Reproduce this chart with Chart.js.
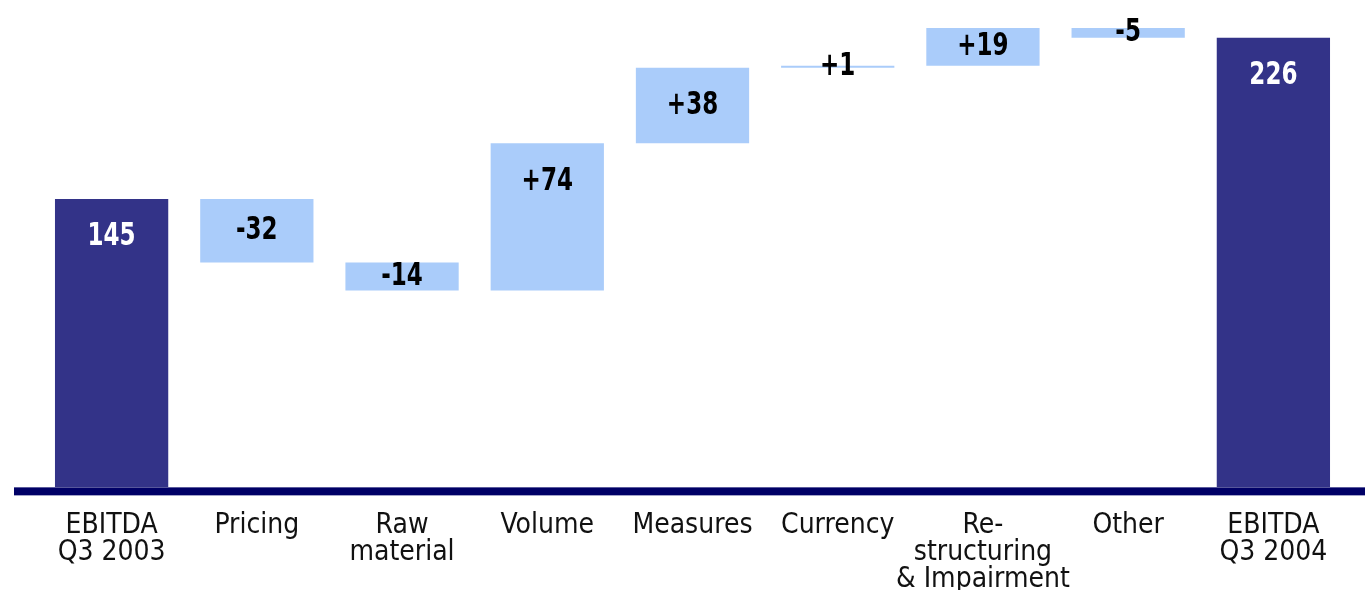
<!DOCTYPE html>
<html lang="en">
<head>
    <meta charset="UTF-8">
    <title>EBITDA bridge</title>
    <script src="https://cdn.jsdelivr.net/npm/chart.js@4.4.0/dist/chart.umd.min.js"></script>
    <style>
        html, body { margin: 0; padding: 0; background: #fff; }
        .chart_box { width: 1365px; height: 590px; }
    </style>
</head>
<body>
<div class="chart_box">
    <canvas id="bridgeChart"></canvas>
</div>
<script>
    // categories and values
    const categories = [
        ['EBITDA', 'Q3 2003'], 'Pricing', ['Raw', 'material'], 'Volume', 'Measures',
        'Currency', ['Re-', 'structuring', '& Impairment'], 'Other', ['EBITDA', 'Q3 2004']
    ];
    const startValue = 145;
    const deltas = [-32, -14, 74, 38, 1, 19, -5];
    const endValue = 226;
    const valueLabels = ['145', '-32', '-14', '+74', '+38', '+1', '+19', '-5', '226'];

    const totalColor = '#333388';
    const stepColor = '#aaccfa';
    const axisColor = '#000066';
    const fontFamily = '"DejaVu Sans Condensed", "Liberation Sans Narrow", sans-serif';

    // floating bars from running total
    const bars = [[0, startValue]];
    let running = startValue;
    deltas.forEach(d => {
        bars.push([running, running + d]);
        running += d;
    });
    bars.push([0, endValue]);
    const colors = bars.map((b, i) => (i === 0 || i === bars.length - 1) ? totalColor : stepColor);

    // thick baseline across the page
    const baseLine = {
        id: 'baseLine',
        afterDatasetsDraw(chart) {
            const c = chart.ctx;
            const y0 = chart.scales.y.getPixelForValue(0);
            c.save();
            c.fillStyle = axisColor;
            c.fillRect(14, y0, chart.width - 14, 8);
            c.restore();
        }
    };

    // value labels on the bars (squeezed a bit, the original font is narrow)
    const barLabels = {
        id: 'barLabels',
        afterDatasetsDraw(chart) {
            const c = chart.ctx;
            const meta = chart.getDatasetMeta(0);
            meta.data.forEach((el, i) => {
                const top = Math.min(el.y, el.base);
                const bottom = Math.max(el.y, el.base);
                const y = Math.min((top + bottom) / 2, top + 38);
                c.save();
                c.translate(el.x, y);
                c.scale(0.8, 1);
                c.textAlign = 'center';
                c.textBaseline = 'middle';
                c.font = 'bold 32px ' + fontFamily;
                c.fillStyle = colors[i] === totalColor ? '#ffffff' : '#000000';
                c.fillText(valueLabels[i], 0, 0);
                c.restore();
            });
        }
    };

    const ctx = document.getElementById('bridgeChart').getContext('2d');
    const bridgeChart = new Chart(ctx, {
        type: 'bar',
        data: {
            labels: categories,
            datasets: [{
                data: bars,
                backgroundColor: colors,
                borderWidth: 0,
                borderSkipped: false,
                categoryPercentage: 1,
                barPercentage: 0.78
            }]
        },
        options: {
            responsive: true,
            maintainAspectRatio: false,
            animation: false,
            layout: { padding: { left: 39, right: 19, top: 10, bottom: -28 } },
            plugins: {
                legend: { display: false },
                tooltip: { enabled: false }
            },
            scales: {
                x: {
                    grid: { display: false, drawTicks: false },
                    border: { display: false },
                    ticks: {
                        color: '#111111',
                        padding: 25,
                        maxRotation: 0,
                        autoSkip: false,
                        font: { family: fontFamily, size: 28, lineHeight: 0.96 }
                    }
                },
                y: {
                    display: false,
                    min: 0,
                    max: 240
                }
            }
        },
        plugins: [baseLine, barLabels]
    });
</script>
</body>
</html>
